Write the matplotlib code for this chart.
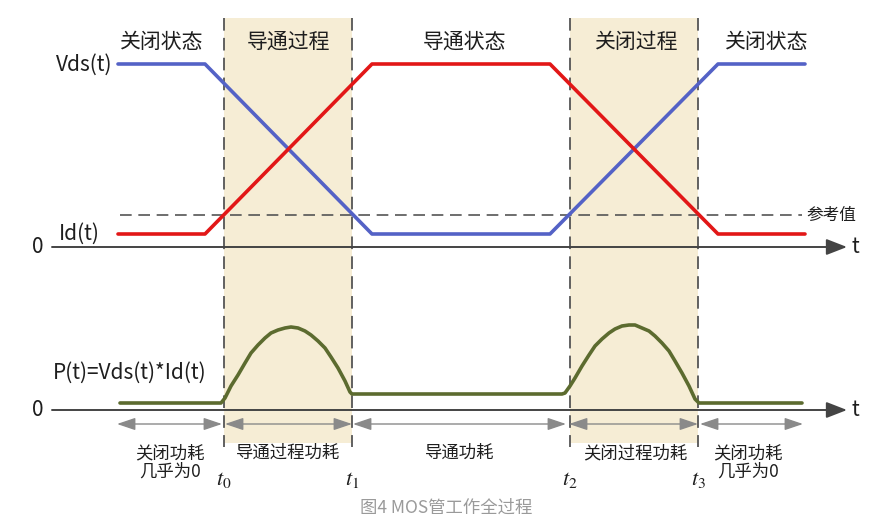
import matplotlib
import matplotlib.pyplot as plt

matplotlib.use("Agg")
plt.rcParams['font.family'] = ['Noto Sans CJK SC', 'DejaVu Sans']
plt.rcParams['mathtext.fontset'] = 'stix'

# time breakpoints (diagram units, left to right)
switch_t = [224, 352, 570, 698]          # t0, t1, t2, t3
switch_names = ['0', '1', '2', '3']
wave_t = [118, 205, 372, 550, 718, 805]
vds_wave = [64, 64, 234, 234, 64, 64]
id_wave = [234, 234, 64, 64, 234, 234]
ref_level = 215

# power curve
power_t = [120, 221, 225, 231, 238, 245, 251, 258, 265, 271, 278, 285, 291,
           298, 305, 311, 318, 325, 331, 338, 345, 350, 352,
           562, 565, 570, 575, 582, 589, 595, 602, 609, 615, 622, 629, 635,
           642, 649, 655, 662, 669, 675, 682, 689, 695, 699, 802]
power_val = [403, 403, 398, 386, 375, 363, 353, 345, 338, 333, 330, 328, 327,
             328, 331, 335, 341, 348, 357, 368, 381, 392, 394,
             394, 393, 386, 378, 366, 355, 346, 339, 333, 329, 326, 325, 325,
             328, 331, 336, 343, 351, 361, 373, 386, 399, 403, 403]

state_labels = ['关闭状态', '导通过程', '导通状态', '关闭过程', '关闭状态']
state_x = [162, 289, 465, 637, 767]
loss_labels = ['关闭功耗\n几乎为0', '导通过程功耗', '导通功耗', '关闭过程功耗', '关闭功耗\n几乎为0']
loss_x = [170, 288, 460, 635, 748]
loss_spans = [(117, 222), (225, 352), (353, 566), (569, 698), (700, 803)]

blue = '#5462c6'
red = '#e21717'
olive = '#5c6b2f'
shade = '#f6edd5'
dark = '#444444'
ink = '#1e1e1e'

fig = plt.figure(figsize=(8.8, 5.27), dpi=100)
ax = fig.add_axes([0, 0, 1, 1])
ax.set_xlim(0, 880)
ax.set_ylim(527, 0)
ax.axis('off')

# transition bands
for a, b in [(switch_t[0], switch_t[1]), (switch_t[2], switch_t[3])]:
    ax.fill_betweenx([18, 443], a, b, color=shade, lw=0, zorder=0)
for x in switch_t:
    ax.plot([x, x], [18, 447], color='#555555', lw=1.3, dashes=(7, 4), zorder=1)

# reference level
ax.plot([120, 802], [ref_level, ref_level], color='#555555', lw=1.2, dashes=(7, 4), zorder=1)
ax.text(806, ref_level, '参考值', fontsize=12, color=ink, va='center', ha='left')

# time axes
for y in [247, 410]:
    ax.annotate('', xy=(847, y), xytext=(52, y),
                arrowprops=dict(arrowstyle='-|>,head_length=0.9,head_width=0.35',
                                color=dark, lw=1.4, mutation_scale=14, shrinkA=0, shrinkB=0),
                zorder=2)
    ax.text(852, y, 't', fontsize=15, color=ink, va='center', ha='left')
    ax.text(38, y, '0', fontsize=15, color=ink, va='center', ha='center')

# waveforms
ax.plot(wave_t, vds_wave, color=blue, lw=2.6, solid_capstyle='round', zorder=3)
ax.plot(wave_t, id_wave, color=red, lw=2.6, solid_capstyle='round', zorder=4)
ax.plot(power_t, power_val, color=olive, lw=2.6, solid_capstyle='round',
        solid_joinstyle='round', zorder=3)

ax.text(112, 65, 'Vds(t)', fontsize=15, color=ink, va='center', ha='right')
ax.text(100, 234, 'Id(t)', fontsize=15, color=ink, va='center', ha='right')
ax.text(53, 373, 'P(t)=Vds(t)*Id(t)', fontsize=15, color=ink, va='center', ha='left')

for label, x in zip(state_labels, state_x):
    ax.text(x, 42, label, fontsize=15, color=ink, va='center', ha='center')

# loss spans
for (a, b), label, x in zip(loss_spans, loss_labels, loss_x):
    ax.annotate('', xy=(b, 424), xytext=(a, 424),
                arrowprops=dict(arrowstyle='<|-|>,head_length=0.8,head_width=0.27',
                                color='#8a8a8a', lw=1.0, mutation_scale=14,
                                shrinkA=0, shrinkB=0),
                zorder=2)
    ax.text(x, 444, label, fontsize=12.5, color=ink, va='top', ha='center',
            linespacing=1.05)

for x, n in zip(switch_t, switch_names):
    ax.text(x, 479, r'$\mathit{t}_{\mathit{' + n + '}}$', fontsize=16, color=ink,
            va='center', ha='center')

ax.text(446, 508, '图4 MOS管工作全过程', fontsize=12.5, color='#9a9a9a',
        va='center', ha='center')

fig.savefig('out.png', dpi=100)
